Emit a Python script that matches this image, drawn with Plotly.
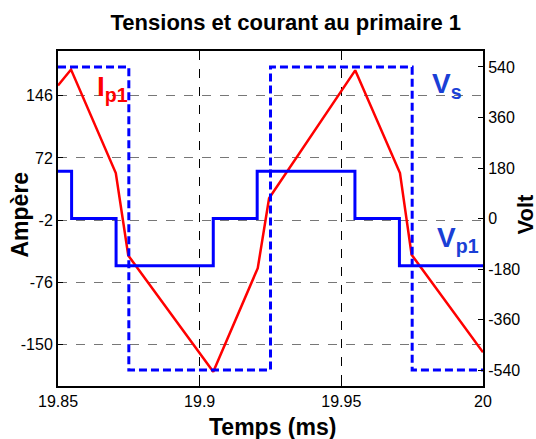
import plotly.graph_objects as go

# --- data ---
t_vs = [19.85, 19.875, 19.875, 19.925, 19.925, 19.975, 19.975, 20.0]
vs = [540, 540, -540, -540, 540, 540, -540, -540]

t_vp = [19.85, 19.8548, 19.8548, 19.8705, 19.8705, 19.9048, 19.9048, 19.9203,
        19.9203, 19.9548, 19.9548, 19.9705, 19.9705, 20.0]
vp = [168, 168, 0, 0, -168, -168, 0, 0, 168, 168, 0, 0, -168, -168]

t_ip = [19.85, 19.8546, 19.8704, 19.8748, 19.9048, 19.9205, 19.9245, 19.9549,
        19.9707, 19.9748, 20.0]
ip = [158, 177, 54, -44, -182, -59, 24, 176, 54, -43, -159]

x_ticks = [19.85, 19.9, 19.95, 20.0]
x_ticktext = ["19.85", "19.9", "19.95", "20"]
amp_ticks = [-150, -76, -2, 72, 146]
amp_ticktext = ["-150", "-76", "-2", "72", "146"]
volt_ticks = [-540, -360, -180, 0, 180, 360, 540]
volt_ticktext = ["-540", "-360", "-180", "0", "180", "360", "540"]

FONT = "Arial, Liberation Sans, sans-serif"
BLUE = "#0000FF"
RED = "#FF0000"

fig = go.Figure()
fig.add_trace(go.Scatter(x=t_ip, y=ip, mode="lines", yaxis="y",
                         line=dict(color=RED, width=2.5), showlegend=False))
fig.add_trace(go.Scatter(x=t_vp, y=vp, mode="lines", yaxis="y2",
                         line=dict(color=BLUE, width=3), showlegend=False))
fig.add_trace(go.Scatter(x=t_vs, y=vs, mode="lines", yaxis="y2",
                         line=dict(color=BLUE, width=3, dash="8px,4px"), showlegend=False))

fig.update_layout(
    width=536, height=439,
    margin=dict(l=58, r=53, t=51, b=53, autoexpand=False),
    paper_bgcolor="white", plot_bgcolor="white",
    font=dict(family=FONT, size=16, color="black"),
    title=dict(text="<b>Tensions et courant au primaire 1</b>", x=0.536, xref="paper",
               xanchor="center", y=1 - 22 / 439, yref="container", yanchor="middle",
               font=dict(size=22, color="black")),
    xaxis=dict(range=[19.85, 20.0], tickvals=x_ticks, ticktext=x_ticktext,
               showline=True, linecolor="black", linewidth=2, mirror=True,
               ticks="inside", ticklen=5, tickcolor="black", automargin=False,
               showgrid=True, gridcolor="black", griddash="dash", gridwidth=1,
               zeroline=False),
    yaxis=dict(range=[-199, 199], tickvals=amp_ticks, ticktext=amp_ticktext,
               showline=True, linecolor="black", linewidth=2, automargin=False,
               ticks="inside", ticklen=5, tickcolor="black",
               showgrid=True, gridcolor="#777777", griddash="dash", gridwidth=1,
               zeroline=False),
    yaxis2=dict(range=[-597, 597], tickvals=volt_ticks, ticktext=volt_ticktext,
                overlaying="y", side="right",
                showline=True, linecolor="black", linewidth=2, automargin=False,
                ticks="inside", ticklen=5, tickcolor="black",
                showgrid=False, zeroline=False),
)

# axis titles
fig.add_annotation(x=0, y=0.5, xref="paper", yref="paper", xshift=-39, yshift=4,
                   text="<b>Ampère</b>", textangle=-90, showarrow=False,
                   xanchor="center", yanchor="middle", font=dict(size=23))
fig.add_annotation(x=1, y=0.5, xref="paper", yref="paper", xshift=42, yshift=4,
                   text="<b>Volt</b>", textangle=-90, showarrow=False,
                   xanchor="center", yanchor="middle", font=dict(size=22))
fig.add_annotation(x=0.5, y=0, xref="paper", yref="paper", xshift=2, yshift=-41,
                   text="<b>Temps (ms)</b>", showarrow=False,
                   xanchor="center", yanchor="middle", font=dict(size=23))

# series labels
fig.add_annotation(x=19.8631, y=155, xref="x", yref="y", xanchor="left", yanchor="middle",
                   text="<b>I<sub>p1</sub></b>", showarrow=False,
                   font=dict(size=28, color=RED))
fig.add_annotation(x=19.9813, y=158, xref="x", yref="y", xanchor="left", yanchor="middle",
                   text="<b>V<sub>s</sub></b>", showarrow=False,
                   font=dict(size=28, color="#1a3fd6"))
fig.add_annotation(x=19.983, y=-25, xref="x", yref="y", xanchor="left", yanchor="middle",
                   text="<b>V<sub>p1</sub></b>", showarrow=False,
                   font=dict(size=28, color="#1a3fd6"))

fig.write_html("out.html", config={"displayModeBar": False},
               post_script="document.body.style.margin='0';")
